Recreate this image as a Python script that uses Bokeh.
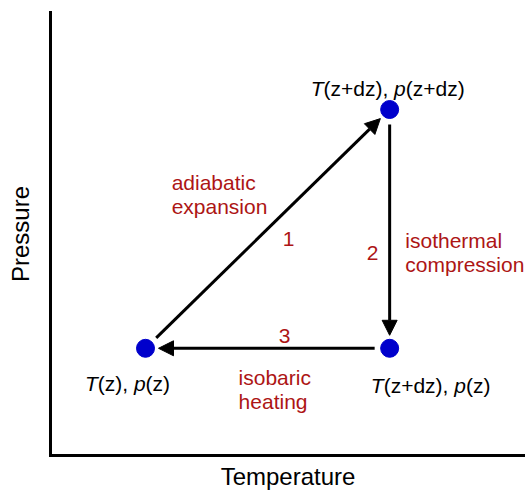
import math
from bokeh.plotting import figure
from bokeh.models import Range1d, Arrow, NormalHead, FixedTicker, ColumnDataSource
from bokeh.core.properties import value
from bokeh.embed import file_html
from bokeh.resources import INLINE

state_names = ["A", "B", "C"]           # A: T(z),p(z)  B: T(z+dz),p(z+dz)  C: T(z+dz),p(z)
temperature = [2.0, 7.14, 7.14]
pressure = [2.42, 7.81, 2.42]
path_order = [(0, 1), (1, 2), (2, 0)]   # 1: adiabatic, 2: isothermal, 3: isobaric
step_numbers = ["1", "2", "3"]
process_lines = [["adiabatic", "expansion"], ["isothermal", "compression"], ["isobaric", "heating"]]
state_labels = [
    [("T", True), ("(z), ", False), ("p", True), ("(z)", False)],
    [("T", True), ("(z+dz), ", False), ("p", True), ("(z+dz)", False)],
    [("T", True), ("(z+dz), ", False), ("p", True), ("(z)", False)],
]

# ---------------- layout / style ----------------
FONT = "Liberation Sans"
RED = "#ad1515"
BLUE = "#0000cc"
W, H = 525, 492
LEFT, TOP, BOTTOM = 50, 12, 37
PX_X = (W - LEFT) / 10.0
PX_Y = (H - TOP - BOTTOM) / 10.0
LABEL_SIZE = 21

p = figure(width=W, height=H, output_backend="svg", toolbar_location=None,
           x_range=Range1d(0, 10), y_range=Range1d(0, 10),
           min_border_left=LEFT, min_border_top=TOP, min_border_right=0, min_border_bottom=BOTTOM,
           x_axis_label="Temperature", y_axis_label="Pressure")
p.outline_line_color = None
p.grid.visible = False
p.background_fill_color = "white"
p.border_fill_color = "white"
for ax in (p.xaxis[0], p.yaxis[0]):
    ax.ticker = FixedTicker(ticks=[])
    ax.major_tick_line_color = None
    ax.minor_tick_line_color = None
    ax.major_tick_out = 0
    ax.major_tick_in = 0
    ax.major_label_standoff = 0
    ax.major_label_text_font_size = "1px"
    ax.axis_line_width = 3
    ax.axis_line_color = "black"
    ax.axis_line_cap = "square"
    ax.axis_label_text_font = FONT
    ax.axis_label_text_font_size = "24px"
    ax.axis_label_text_font_style = "normal"
    ax.axis_label_text_color = "black"
p.yaxis[0].axis_label_standoff = 17
p.xaxis[0].axis_label_standoff = 7

# ---------------- arrows ----------------
GAP_START, GAP_END = 15, 13
for (i, j) in path_order:
    x0, y0 = temperature[i], pressure[i]
    x1, y1 = temperature[j], pressure[j]
    dxp, dyp = (x1 - x0) * PX_X, (y1 - y0) * PX_Y
    L = math.hypot(dxp, dyp)
    ux, uy = dxp / L, dyp / L
    xs = x0 + ux * GAP_START / PX_X
    ys = y0 + uy * GAP_START / PX_Y
    xe = x1 - ux * GAP_END / PX_X
    ye = y1 - uy * GAP_END / PX_Y
    p.add_layout(Arrow(x_start=xs, y_start=ys, x_end=xe, y_end=ye,
                       line_width=3, line_color="black",
                       end=NormalHead(size=15, fill_color="black", line_color="black", line_width=1)))

# ---------------- points ----------------
p.scatter(temperature, pressure, size=18, marker="circle", fill_color=BLUE, line_color=BLUE)

# ---------------- state labels (mixed italic) ----------------
CW = {"T": 611, "(": 333, ")": 333, "z": 500, "+": 584, "d": 556, ",": 278, " ": 278, "p": 556}
def seg_width(s):
    return sum(CW.get(c, 556) for c in s) / 1000.0 * LABEL_SIZE

label_anchor = [(-18, 35), (-2, -21), (41, 37)]   # centre offset (px) from the point, baseline
src = {True: dict(x=[], y=[], text=[], xo=[], yo=[]), False: dict(x=[], y=[], text=[], xo=[], yo=[])}
for k, segs in enumerate(state_labels):
    total = sum(seg_width(s) for s, _ in segs)
    cx, by = label_anchor[k]
    cur = cx - total / 2.0
    for s, it in segs:
        d = src[it]
        d["x"].append(temperature[k]); d["y"].append(pressure[k]); d["text"].append(s)
        d["xo"].append(cur); d["yo"].append(by)
        cur += seg_width(s)
for it, d in src.items():
    p.text(x="x", y="y", text="text", x_offset="xo", y_offset="yo", source=ColumnDataSource(d),
           text_font=value(FONT), text_font_size=f"{LABEL_SIZE}px",
           text_font_style="italic" if it else "normal",
           text_color="black", text_align="left", text_baseline="alphabetic")

# ---------------- process labels ----------------
proc_pos = [(2.55, 6.16), (7.47, 4.85), (3.96, 1.76)]   # left / first baseline
line_gap = 24 / PX_Y
px_, py_, pt_ = [], [], []
for k, lines in enumerate(process_lines):
    for n, t in enumerate(lines):
        px_.append(proc_pos[k][0]); py_.append(proc_pos[k][1] - n * line_gap); pt_.append(t)
p.text(x=px_, y=py_, text=pt_, text_font=value(FONT), text_font_size=f"{LABEL_SIZE}px",
       text_color=RED, text_align="left", text_baseline="alphabetic")

num_pos = [(5.01, 4.88), (6.78, 4.56), (4.93, 2.70)]
p.text(x=[q[0] for q in num_pos], y=[q[1] for q in num_pos], text=step_numbers,
       text_font=value(FONT), text_font_size=f"{LABEL_SIZE}px",
       text_color=RED, text_align="center", text_baseline="alphabetic")

open("out.html", "w").write(file_html(p, INLINE))
